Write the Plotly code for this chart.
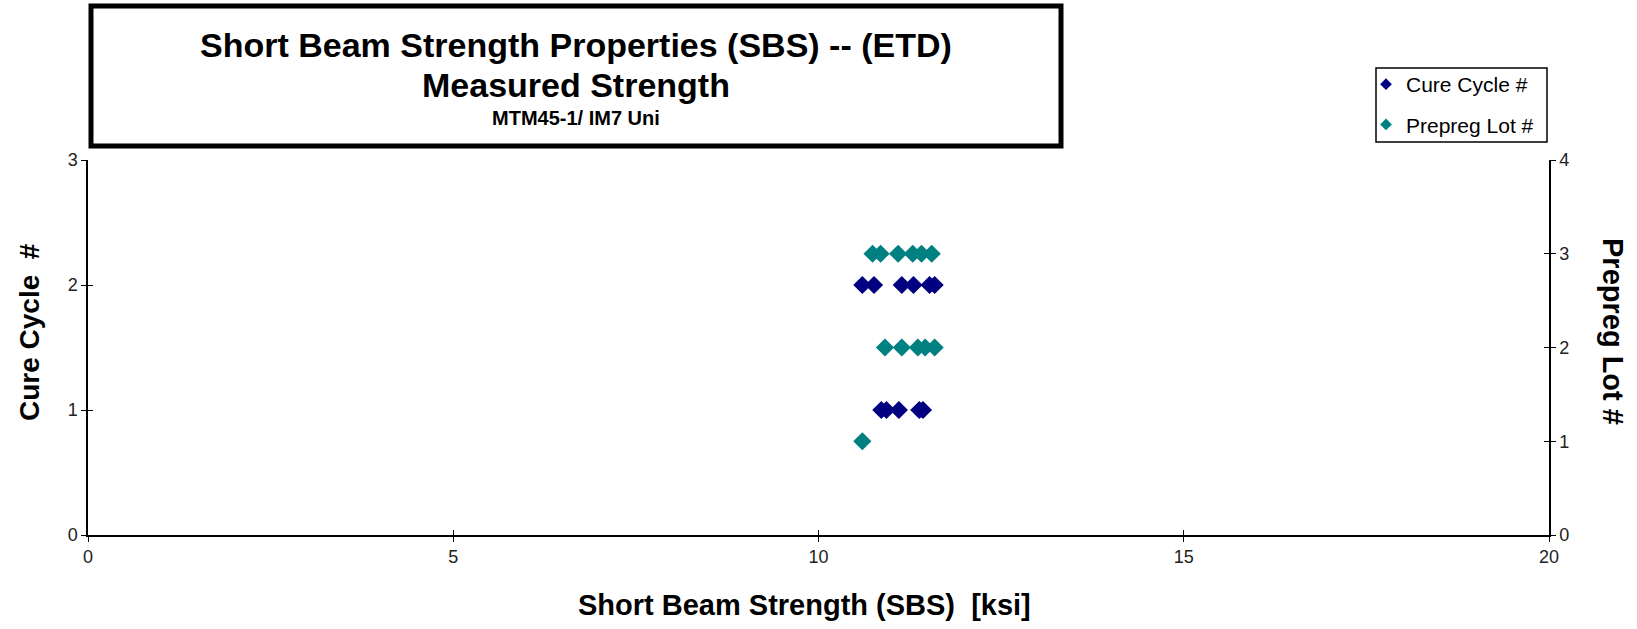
import plotly.graph_objects as go

# ---- data ----
cure_sbs = [10.60, 10.76, 11.14, 11.30, 11.52, 11.59,
            10.86, 10.93, 11.10, 11.38, 11.43]
cure_cycle = [2, 2, 2, 2, 2, 2,
              1, 1, 1, 1, 1]

lot_sbs = [10.74, 10.85, 11.09, 11.29, 11.41, 11.55,
           10.91, 11.14, 11.36, 11.46, 11.59,
           10.60]
lot_num = [3, 3, 3, 3, 3, 3,
           2, 2, 2, 2, 2,
           1]

x_ticks = [0, 5, 10, 15, 20]
y1_ticks = [0, 1, 2, 3]
y2_ticks = [0, 1, 2, 3, 4]

NAVY = "#000080"
TEAL = "#008080"
FONT = "Liberation Sans, Arial, sans-serif"
TICKC = "#222222"

W, H = 1637, 629
L, R, T, B = 88, 88, 160, 94
pw = W - L - R
ph = H - T - B


def px_x(x):
    return (x - L) / pw


def px_y(y):
    return (H - B - y) / ph


fig = go.Figure()
fig.add_trace(go.Scatter(
    x=cure_sbs, y=cure_cycle, mode="markers", name="Cure Cycle #",
    marker=dict(symbol="diamond", size=14, color=NAVY), xaxis="x", yaxis="y",
    showlegend=False))
fig.add_trace(go.Scatter(
    x=lot_sbs, y=lot_num, mode="markers", name="Prepreg Lot #",
    marker=dict(symbol="diamond", size=14, color=TEAL), xaxis="x", yaxis="y2",
    showlegend=False))
# legend entries with small symbols, as in the reference
fig.add_trace(go.Scatter(x=[None], y=[None], mode="markers", name="Cure Cycle #",
                         marker=dict(symbol="diamond", size=9, color=NAVY),
                         legendgroup="a", hoverinfo="skip"))
fig.add_trace(go.Scatter(x=[None], y=[None], mode="markers", name="Prepreg Lot #",
                         marker=dict(symbol="diamond", size=9, color=TEAL),
                         legendgroup="b", yaxis="y2", hoverinfo="skip"))
# empty helper traces so the inner-tick overlay axes are drawn
fig.add_trace(go.Scatter(x=[None], y=[None], xaxis="x2", yaxis="y3",
                         showlegend=False, hoverinfo="skip"))
fig.add_trace(go.Scatter(x=[None], y=[None], xaxis="x2", yaxis="y4",
                         showlegend=False, hoverinfo="skip"))

axis_common = dict(showgrid=False, zeroline=False, showline=True,
                   linecolor="black", linewidth=1.5, ticks="outside",
                   ticklen=5, tickcolor="black", tickwidth=1,
                   tickfont=dict(family=FONT, size=18, color=TICKC))
inner_common = dict(showgrid=False, zeroline=False, showline=False,
                    ticks="inside", ticklen=5, tickcolor="black", tickwidth=1,
                    showticklabels=False)

fig.update_layout(
    width=W, height=H,
    margin=dict(l=L, r=R, t=T, b=B),
    paper_bgcolor="white", plot_bgcolor="white",
    showlegend=True,
    legend=dict(x=px_x(1366), y=px_y(64), xanchor="left", yanchor="top",
                borderwidth=0, bgcolor="rgba(0,0,0,0)",
                font=dict(family=FONT, size=21, color="black"),
                itemwidth=30, tracegroupgap=10, traceorder="grouped"),
    xaxis=dict(range=[0, 20], tickvals=x_ticks, **axis_common),
    yaxis=dict(range=[0, 3], tickvals=y1_ticks, **axis_common),
    yaxis2=dict(range=[0, 4], tickvals=y2_ticks, overlaying="y", side="right",
                **axis_common),
    xaxis2=dict(range=[0, 20], tickvals=x_ticks, overlaying="x", anchor="y3",
                side="bottom", **inner_common),
    yaxis3=dict(range=[0, 3], tickvals=y1_ticks, overlaying="y", side="left",
                anchor="x2", **inner_common),
    yaxis4=dict(range=[0, 4], tickvals=y2_ticks, overlaying="y", side="right",
                anchor="x2", **inner_common),
)

# legend frame
fig.add_shape(type="rect", xref="paper", yref="paper",
              x0=px_x(1376), x1=px_x(1547), y0=px_y(142), y1=px_y(68),
              line=dict(color="black", width=1.5), fillcolor="rgba(0,0,0,0)",
              layer="above")

# title box
fig.add_shape(type="rect", xref="paper", yref="paper",
              x0=px_x(91), x1=px_x(1061), y0=px_y(146), y1=px_y(6),
              line=dict(color="black", width=5), fillcolor="white", layer="above")

title_lines = [
    ("Short Beam Strength Properties (SBS) -- (ETD)", 45, 34),
    ("Measured Strength", 85, 34),
    ("MTM45-1/ IM7 Uni", 118, 20),
]
for txt, yy, sz in title_lines:
    fig.add_annotation(text=f"<b>{txt}</b>", xref="paper", yref="paper",
                       x=px_x(576), y=px_y(yy), xanchor="center", yanchor="middle",
                       showarrow=False, font=dict(family=FONT, size=sz, color="black"))

# axis titles
fig.add_annotation(text="<b>Short Beam Strength (SBS)  [ksi]</b>", xref="paper", yref="paper",
                   x=px_x(804), y=px_y(605), xanchor="center", yanchor="middle",
                   showarrow=False, font=dict(family=FONT, size=29, color="black"))
fig.add_annotation(text="<b>Cure Cycle  #</b>", xref="paper", yref="paper",
                   x=px_x(29), y=px_y(332), xanchor="center", yanchor="middle",
                   textangle=-90, showarrow=False,
                   font=dict(family=FONT, size=28, color="black"))
fig.add_annotation(text="<b>Prepreg Lot #</b>", xref="paper", yref="paper",
                   x=px_x(1613), y=px_y(332), xanchor="center", yanchor="middle",
                   textangle=90, showarrow=False,
                   font=dict(family=FONT, size=29, color="black"))

fig.write_html("out.html", config={"displayModeBar": False},
               post_script="document.body.style.margin='0px';")
